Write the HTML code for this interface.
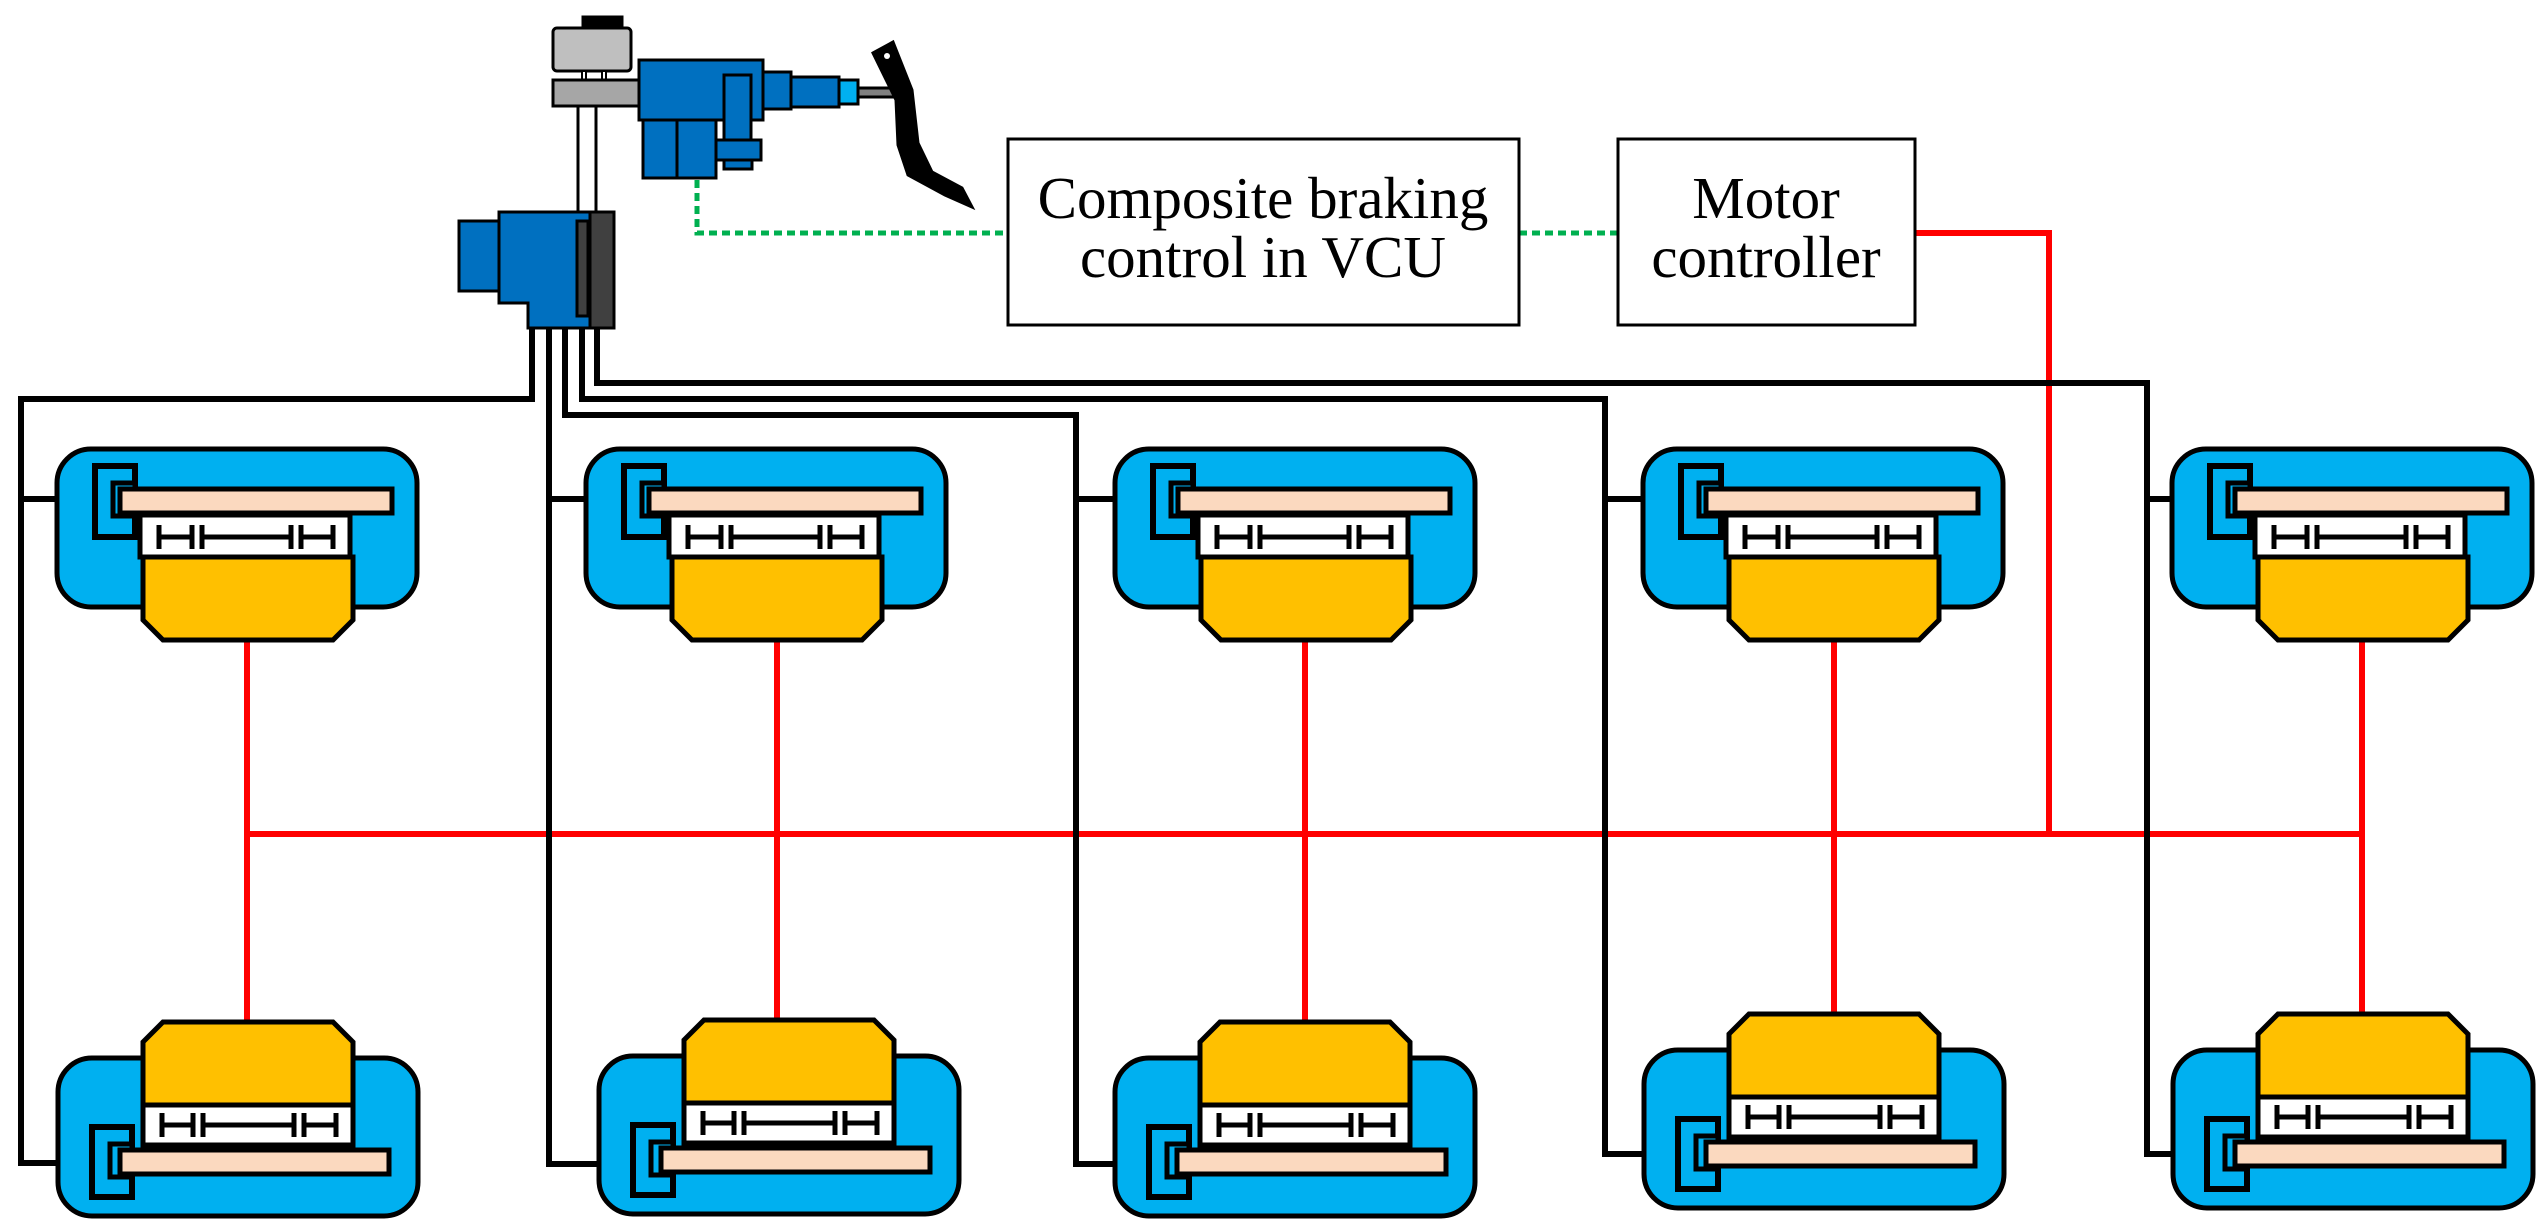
<!DOCTYPE html>
<html><head><meta charset="utf-8"><style>
html,body{margin:0;padding:0;background:#fff;}
svg{display:block;}
text{font-family:"Liberation Serif",serif;font-size:59px;fill:#000;}
</style></head><body>
<svg width="2548" height="1228" viewBox="0 0 2548 1228" xmlns="http://www.w3.org/2000/svg">
<defs>
<g id="top">
  <rect x="0" y="0" width="360" height="158" rx="34" fill="#00b0f0" stroke="#000" stroke-width="5"/>
  <path d="M86,108 H296 V171 L276,191 H106 L86,171 Z" fill="#ffc000" stroke="#000" stroke-width="5"/>
  <rect x="83" y="66" width="210" height="42" fill="#fff" stroke="#000" stroke-width="5"/>
  <g stroke="#000" stroke-width="5" fill="none">
    <path d="M102,76 V100 M135,76 V100 M145,76 V100 M234,76 V100 M244,76 V100 M276,76 V100"/>
    <path d="M102,88 H135 M145,88 H234 M244,88 H276"/>
  </g>
  <rect x="38" y="17" width="40" height="71" fill="#00b0f0" stroke="#000" stroke-width="6"/>
  <rect x="56" y="34" width="22" height="33" fill="#00b0f0" stroke="#000" stroke-width="5"/>
  <rect x="63" y="40" width="272" height="24" fill="#fbd9bf" stroke="#000" stroke-width="5"/>
</g>
<g id="bot">
  <rect x="0" y="0" width="360" height="158" rx="34" fill="#00b0f0" stroke="#000" stroke-width="5"/>
  <path d="M105,-36 H275 L295,-16 V47 H85 V-16 Z" fill="#ffc000" stroke="#000" stroke-width="5"/>
  <rect x="85" y="47" width="210" height="40" fill="#fff" stroke="#000" stroke-width="5"/>
  <g stroke="#000" stroke-width="5" fill="none">
    <path d="M104,55 V79 M135,55 V79 M145,55 V79 M236,55 V79 M246,55 V79 M278,55 V79"/>
    <path d="M104,67 H135 M145,67 H236 M246,67 H278"/>
  </g>
  <rect x="34" y="69" width="40" height="70" fill="#00b0f0" stroke="#000" stroke-width="6"/>
  <rect x="52" y="86" width="22" height="33" fill="#00b0f0" stroke="#000" stroke-width="5"/>
  <rect x="62" y="92" width="269" height="24" fill="#fbd9bf" stroke="#000" stroke-width="5"/>
</g>
</defs>

<g stroke="#ff0000" stroke-width="6" fill="none">
  <path d="M247,834 H2362"/>
  <path d="M1915,233 H2049 V834"/>
  <path d="M247,640 V1022 M777,640 V1019 M1305,640 V1021 M1834,640 V1014 M2362,640 V1014"/>
</g>

<g stroke="#000" stroke-width="6" fill="none">
  <path d="M532,328 V399 H21 V1163 H92"/>
  <path d="M21,499 H95"/>
  <path d="M549,328 V1164 H634"/>
  <path d="M549,499 H624"/>
  <path d="M565,328 V415 H1076 V1164 H1149"/>
  <path d="M1076,499 H1153"/>
  <path d="M582,328 V399 H1605 V1154 H1678"/>
  <path d="M1605,499 H1681"/>
  <path d="M597,328 V383 H2147 V1154 H2207"/>
  <path d="M2147,499 H2210"/>
</g>

<use href="#top" x="57" y="449"/>
<use href="#top" x="586" y="449"/>
<use href="#top" x="1115" y="449"/>
<use href="#top" x="1643" y="449"/>
<use href="#top" x="2172" y="449"/>
<use href="#bot" x="58" y="1058"/>
<use href="#bot" x="599" y="1056"/>
<use href="#bot" x="1115" y="1058"/>
<use href="#bot" x="1644" y="1050"/>
<use href="#bot" x="2173" y="1050"/>

<g stroke="#00b050" stroke-width="5" fill="none" stroke-dasharray="8,5">
  <path d="M697,180 V233 H1008"/>
  <path d="M1519,233 H1618"/>
</g>

<rect x="1008" y="139" width="511" height="186" fill="#fff" stroke="#000" stroke-width="3"/>
<text x="1263" y="218" text-anchor="middle">Composite braking</text>
<text x="1263" y="277" text-anchor="middle">control in VCU</text>
<rect x="1618" y="139" width="297" height="186" fill="#fff" stroke="#000" stroke-width="3"/>
<text x="1766" y="218" text-anchor="middle">Motor</text>
<text x="1766" y="277" text-anchor="middle">controller</text>

<g stroke="#000" stroke-width="3">
  <line x1="578" y1="106" x2="578" y2="212"/>
  <line x1="596" y1="106" x2="596" y2="212"/>
  <rect x="583" y="17" width="39" height="12" fill="#000"/>
  <rect x="553" y="28" width="78" height="43" rx="4" fill="#bfbfbf"/>
  <rect x="582" y="71" width="4" height="9" fill="#fff" stroke-width="2"/>
  <rect x="602" y="71" width="4" height="9" fill="#fff" stroke-width="2"/>
  <rect x="553" y="80" width="87" height="26" fill="#a6a6a6"/>
  <rect x="643" y="120" width="34" height="58" fill="#0070c0"/>
  <rect x="677" y="120" width="39" height="58" fill="#0070c0"/>
  <rect x="639" y="60" width="124" height="60" fill="#0070c0"/>
  <rect x="724" y="160" width="28" height="9" fill="#0070c0"/>
  <rect x="724" y="75" width="27" height="85" fill="#0070c0"/>
  <rect x="716" y="140" width="45" height="20" fill="#0070c0"/>
  <rect x="763" y="72" width="28" height="37" fill="#0070c0"/>
  <rect x="791" y="77" width="48" height="30" fill="#0070c0"/>
  <rect x="839" y="80" width="19" height="24" fill="#00b0f0"/>
  <rect x="858" y="88" width="42" height="9" fill="#808080"/>
  <path d="M873,53 L893,42 L912,90 L918,143 L932,172 L962,188 L972,207 L945,195 L908,175 L898,145 L896,100 Z" fill="#000"/>
  <circle cx="887" cy="56" r="3" fill="#fff" stroke="none"/>
  <rect x="459" y="221" width="40" height="70" fill="#0070c0"/>
  <path d="M499,212 H590 V328 H528 V303 H499 Z" fill="#0070c0"/>
  <rect x="590" y="212" width="24" height="116" fill="#404040"/>
  <rect x="577" y="221" width="11" height="95" fill="#404040"/>
</g>
</svg>
</body></html>
